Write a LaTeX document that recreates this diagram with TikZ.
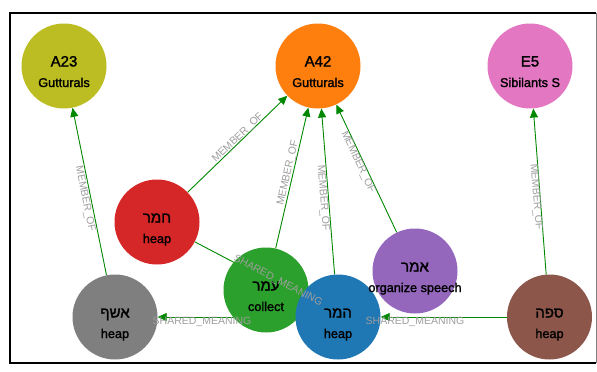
\documentclass[tikz,border=0pt]{standalone}
\usepackage{fontspec}
\setmainfont{Liberation Sans}
\newfontfamily\nodefont[FakeBold=1.6]{Liberation Sans}
\newfontfamily\hebfont[Script=Hebrew,FakeBold=1.6]{Liberation Sans}
\TeXXeTstate=1
\usetikzlibrary{arrows.meta}
\pgfdeclarelayer{bg}
\pgfsetlayers{bg,main}
\definecolor{cOlive}{HTML}{BCBD22}
\definecolor{cOrange}{HTML}{FF7F0E}
\definecolor{cPink}{HTML}{E377C2}
\definecolor{cRed}{HTML}{D62728}
\definecolor{cGray}{HTML}{7F7F7F}
\definecolor{cGreen}{HTML}{2CA02C}
\definecolor{cBlue}{HTML}{1F77B4}
\definecolor{cPurple}{HTML}{9467BD}
\definecolor{cBrown}{HTML}{8C564B}
\definecolor{edgegreen}{RGB}{0,135,0}
\definecolor{labelgray}{RGB}{158,158,158}
\tikzset{
  gnode/.style={circle, minimum size=85pt, inner sep=0pt, fill=#1},
  topline/.style={anchor=base, font=\nodefont\fontsize{15}{15}\selectfont, inner sep=0pt},
  subline/.style={anchor=base, font=\nodefont\fontsize{12.7}{13}\selectfont, inner sep=0pt},
  rel/.style={draw=edgegreen, line width=0.9pt, -{Triangle[length=9pt,width=8pt]}},
  rellabel/.style={font=\fontsize{10.5}{11}\selectfont, text=labelgray, inner sep=0pt},
}
\newcommand\gnd[6]{%
  \node[gnode=#4] (#1) at (#2,#3) {};
  \node[topline] (#1-t) at (#2,#3+0.5) {#5};
  \node[subline] (#1-s) at (#2,#3+21) {#6};
}
\newcommand\heb[1]{{\hebfont\beginR #1\endR}}
\begin{document}
\begin{tikzpicture}[x=1pt,y=-1pt]
\useasboundingbox (0,0) rectangle (597,372);
% frame
\draw[black, line width=1.5pt] (596,13) -- (10,13) -- (10,363) -- (596,363);
\draw[gray, line width=0.8pt] (596,13) -- (596,363);
% nodes
\gnd{a23}{64}{66}{cOlive}{A23}{Gutturals}
\gnd{a42}{318}{66}{cOrange}{A42}{Gutturals}
\gnd{e5}{530}{66}{cPink}{E5}{Sibilants S}
\gnd{hmr}{157}{222}{cRed}{\heb{חמר}}{heap}
\gnd{ashp}{115}{317}{cGray}{\heb{אשף}}{heap}
\gnd{omr}{266}{290}{cGreen}{\heb{עמר}}{collect}
\gnd{hamar}{338}{317}{cBlue}{\heb{המר}}{heap}
\gnd{amr}{415}{271}{cPurple}{\heb{אמר}}{organize speech}
\gnd{sfh}{549.5}{317}{cBrown}{\heb{ספה}}{heap}
% edges
\begin{pgfonlayer}{bg}
\draw[rel] (ashp) -- (a23);
\draw[rel] (hmr) -- (a42);
\draw[rel] (omr) -- (a42);
\draw[rel] (hamar) -- (a42);
\draw[rel] (amr) -- (a42);
\draw[rel] (sfh) -- (e5);
\draw[rel] (hmr) -- (hamar);
\draw[rel] (hamar) -- (ashp);
\draw[rel] (sfh) -- (hamar);
\end{pgfonlayer}
% edge labels
\node[rellabel, rotate=-78.5] (l1) at (85,199) {MEMBER\_OF};
\node[rellabel, rotate=44] (l2) at (238,138) {MEMBER\_OF};
\node[rellabel, rotate=77] (l3) at (288,173) {MEMBER\_OF};
\node[rellabel, rotate=-85.5] (l4) at (323,198) {MEMBER\_OF};
\node[rellabel, rotate=-64.7] (l5) at (358,162) {MEMBER\_OF};
\node[rellabel, rotate=-85.4] (l6) at (536,197) {MEMBER\_OF};
\node[rellabel, rotate=-27.7] (l7) at (278,281) {SHARED\_MEANING};
\node[rellabel] (l8) at (202,322) {SHARED\_MEANING};
\node[rellabel] (l9) at (415,322) {SHARED\_MEANING};
\end{tikzpicture}
\end{document}
